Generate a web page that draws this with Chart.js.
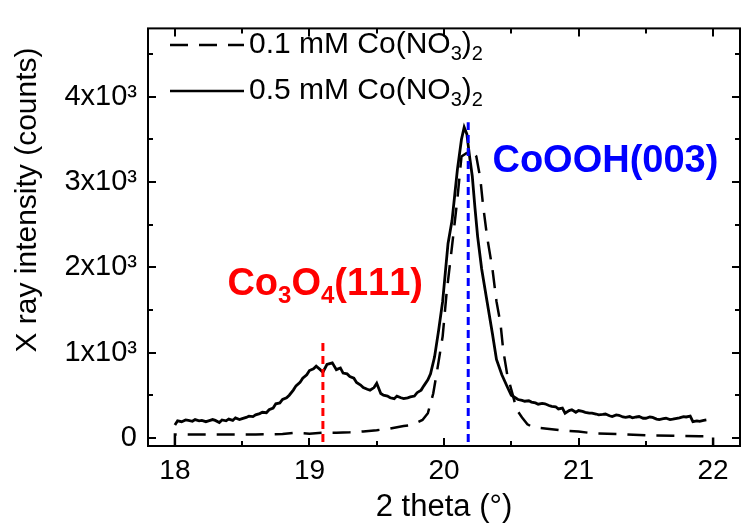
<!DOCTYPE html>
<html><head><meta charset="utf-8">
<script src="https://cdn.jsdelivr.net/npm/chart.js@4"></script>
<style>html,body{margin:0;padding:0;background:#fff;}</style>
</head><body>
<canvas id="c" width="741" height="527"></canvas>
<script>
// ---- data ----
const xTicks = [18, 19, 20, 21, 22];
const yTicks = [0, 1000, 2000, 3000, 4000];
const yTickLabels = ["0", "1x10\u00B3", "2x10\u00B3", "3x10\u00B3", "4x10\u00B3"];
const seriesLabels = ["0.1 mM Co(NO\u2083)\u2082", "0.5 mM Co(NO\u2083)\u2082"];
const xTitle = "2 theta (\u00B0)";
const yTitle = "X ray intensity (counts)";
const peakLabels = ["Co\u2083O\u2084(111)", "CoOOH(003)"];
const peakX = [19.1, 20.18];
const peakTop = [1160, 3700];

const dashX = [18.00,18.00,18.20,18.40,18.60,18.80,18.90,19.00,19.10,19.20,19.30,19.40,19.50,19.60,19.70,19.75,19.80,19.84,19.88,19.92,19.95,19.99,20.02,20.06,20.10,20.13,20.17,20.21,20.24,20.27,20.29,20.32,20.36,20.39,20.42,20.44,20.47,20.51,20.54,20.58,20.62,20.66,20.75,20.86,21.00,21.10,21.30,21.50,21.70,21.90,22.00,22.00];
const dashY = [-150,40,40,40,40,45,60,50,60,60,65,75,90,110,140,150,180,210,290,520,800,1190,1710,2250,2810,3300,3340,3360,3300,3040,2730,2360,1980,1600,1340,1030,740,510,330,240,160,125,110,90,75,55,45,30,25,20,20,-150];

const solidX = [18.00,18.02,18.05,18.08,18.10,18.13,18.15,18.18,18.20,18.23,18.25,18.28,18.30,18.33,18.35,18.38,18.40,18.43,18.45,18.48,18.50,18.53,18.55,18.58,18.60,18.63,18.65,18.68,18.70,18.73,18.75,18.78,18.80,18.83,18.85,18.88,18.90,18.93,18.95,18.98,19.00,19.03,19.05,19.08,19.10,19.13,19.15,19.17,19.20,19.23,19.25,19.28,19.30,19.33,19.35,19.38,19.40,19.43,19.45,19.48,19.50,19.53,19.55,19.58,19.60,19.63,19.65,19.68,19.70,19.73,19.75,19.78,19.80,19.83,19.85,19.88,19.90,19.93,19.96,19.99,20.01,20.03,20.06,20.08,20.10,20.13,20.15,20.17,20.19,20.21,20.23,20.25,20.28,20.32,20.36,20.39,20.43,20.47,20.50,20.53,20.55,20.58,20.60,20.63,20.65,20.68,20.70,20.73,20.75,20.78,20.80,20.83,20.85,20.88,20.90,20.93,20.95,20.98,21.00,21.03,21.05,21.08,21.10,21.13,21.15,21.18,21.20,21.23,21.25,21.28,21.30,21.33,21.35,21.38,21.40,21.43,21.45,21.48,21.50,21.53,21.55,21.58,21.60,21.63,21.65,21.68,21.70,21.73,21.75,21.78,21.80,21.83,21.85,21.88,21.90,21.93,21.95,21.98,22.00];
const solidY = [150,200,190,210,205,195,215,200,205,190,200,215,205,180,210,200,220,205,235,215,225,240,255,250,270,285,300,295,330,350,400,410,450,470,500,560,610,650,700,740,790,810,840,800,770,860,870,880,800,820,760,750,720,700,650,620,590,570,560,590,640,520,500,490,470,460,490,470,460,470,480,490,530,560,610,680,750,950,1260,1600,1940,2280,2550,2850,3150,3500,3640,3560,3300,3070,2700,2360,1980,1600,1220,920,740,600,500,470,450,440,430,435,420,410,395,405,400,380,370,365,340,350,290,320,330,300,320,310,300,290,290,280,270,275,280,260,250,270,265,245,240,250,235,245,250,230,230,245,240,220,215,225,230,215,220,230,235,250,245,255,190,200,195,205,210];

// ---- helpers ----
const pts = (xs, ys) => xs.map((x, i) => ({x: x, y: ys[i]}));
const SUB = {"\u2080":"0","\u2081":"1","\u2082":"2","\u2083":"3","\u2084":"4"};
const FAM = "'Liberation Sans', Arial, sans-serif";
function drawRich(ctx, text, x, y, size, weight, color, subScale) {
  ctx.save();
  ctx.fillStyle = color;
  ctx.textBaseline = "middle";
  ctx.textAlign = "left";
  let cx = x;
  for (const ch of text) {
    if (SUB[ch]) {
      ctx.font = weight + " " + Math.round(size * subScale) + "px " + FAM;
      ctx.fillText(SUB[ch], cx, y + size * 0.32);
      cx += ctx.measureText(SUB[ch]).width;
    } else {
      ctx.font = weight + " " + size + "px " + FAM;
      ctx.fillText(ch, cx, y);
      cx += ctx.measureText(ch).width;
    }
  }
  ctx.restore();
}

const framePlugin = {
  id: "frame",
  afterDatasetsDraw(chart) {
    const {ctx, chartArea: a, scales: {x, y}} = chart;
    ctx.save();
    ctx.strokeStyle = "#000";
    ctx.lineWidth = 2;
    ctx.strokeRect(a.left, a.top, a.right - a.left, a.bottom - a.top);
    ctx.beginPath();
    for (let v = 18; v <= 22.001; v += 0.5) {
      const px = Math.round(x.getPixelForValue(v));
      const L = Math.abs(v - Math.round(v)) < 1e-6 ? 8 : 5;
      ctx.moveTo(px, a.bottom); ctx.lineTo(px, a.bottom - L);
      ctx.moveTo(px, a.top); ctx.lineTo(px, a.top + L);
    }
    for (let v = 0; v <= 4500; v += 500) {
      const py = Math.round(y.getPixelForValue(v));
      const L = v % 1000 === 0 ? 8 : 5;
      ctx.moveTo(a.left, py); ctx.lineTo(a.left + L, py);
      ctx.moveTo(a.right, py); ctx.lineTo(a.right - L, py);
    }
    ctx.stroke();
    ctx.restore();
  },
  afterDraw(chart) {
    const {ctx, scales: {x, y}} = chart;
    // y-axis title
    ctx.save();
    ctx.translate(28, 200);
    ctx.rotate(-Math.PI / 2);
    ctx.font = "30px " + FAM;
    ctx.fillStyle = "#000";
    ctx.textAlign = "center";
    ctx.textBaseline = "middle";
    ctx.fillText(yTitle, 0, 0);
    ctx.restore();
    // legend
    const ds = chart.data.datasets;
    [0, 1].forEach((i) => {
      const d = ds[i];
      const ly = 45 + i * 46;
      ctx.save();
      ctx.strokeStyle = d.borderColor;
      ctx.lineWidth = 2.5;
      ctx.setLineDash(d.borderDash || []);
      ctx.beginPath(); ctx.moveTo(170, ly); ctx.lineTo(244, ly); ctx.stroke();
      ctx.restore();
      drawRich(ctx, d.label, 249, ly, 30, "normal", "#000", 0.68);
    });
    // peak annotations
    drawRich(ctx, peakLabels[0], x.getPixelForValue(18.39), y.getPixelForValue(1800), 38, "bold", "#ff0000", 0.62);
    drawRich(ctx, peakLabels[1], x.getPixelForValue(20.36), y.getPixelForValue(3240), 38, "bold", "#0000ff", 0.62);
  }
};

new Chart(document.getElementById("c"), {
  type: "line",
  data: {
    datasets: [
      {label: seriesLabels[0], data: pts(dashX, dashY), borderColor: "#000", borderWidth: 2.5, borderDash: [18, 11], pointRadius: 0, tension: 0, order: 2},
      {label: seriesLabels[1], data: pts(solidX, solidY), borderColor: "#000", borderWidth: 2.8, pointRadius: 0, tension: 0, order: 1},
      {label: "m1", data: [{x: peakX[0], y: -200}, {x: peakX[0], y: peakTop[0]}], borderColor: "#ff0000", borderWidth: 3, borderDash: [8, 5], pointRadius: 0, order: 0},
      {label: "m2", data: [{x: peakX[1], y: -200}, {x: peakX[1], y: peakTop[1]}], borderColor: "#0000ff", borderWidth: 3, borderDash: [8, 5], pointRadius: 0, order: 0}
    ]
  },
  options: {
    responsive: false,
    animation: false,
    devicePixelRatio: 1,
    layout: {padding: {top: 15, right: 1, left: 0, bottom: 0}},
    plugins: {legend: {display: false}, tooltip: {enabled: false}},
    scales: {
      x: {
        type: "linear", min: 17.8, max: 22.2,
        grid: {display: false, drawTicks: false, tickLength: 0},
        border: {display: false},
        afterBuildTicks: (s) => { s.ticks = xTicks.map(v => ({value: v})); },
        afterFit: (s) => { s.height = 81; },
        ticks: {font: {size: 28, family: FAM}, color: "#000", padding: 8, maxRotation: 0},
        title: {display: true, text: xTitle, font: {size: 31, family: FAM}, color: "#000", padding: {top: 0, bottom: 1}}
      },
      y: {
        type: "linear", min: -95, max: 4800,
        grid: {display: false, drawTicks: false, tickLength: 0},
        border: {display: false},
        afterBuildTicks: (s) => { s.ticks = yTicks.map(v => ({value: v})); },
        afterFit: (s) => { s.width = 148; },
        ticks: {font: {size: 29, family: FAM}, color: "#000", padding: 11,
          callback: (v) => yTickLabels[yTicks.indexOf(v)]},
        title: {display: false, text: yTitle}
      }
    }
  },
  plugins: [framePlugin]
});
</script>
</body></html>
